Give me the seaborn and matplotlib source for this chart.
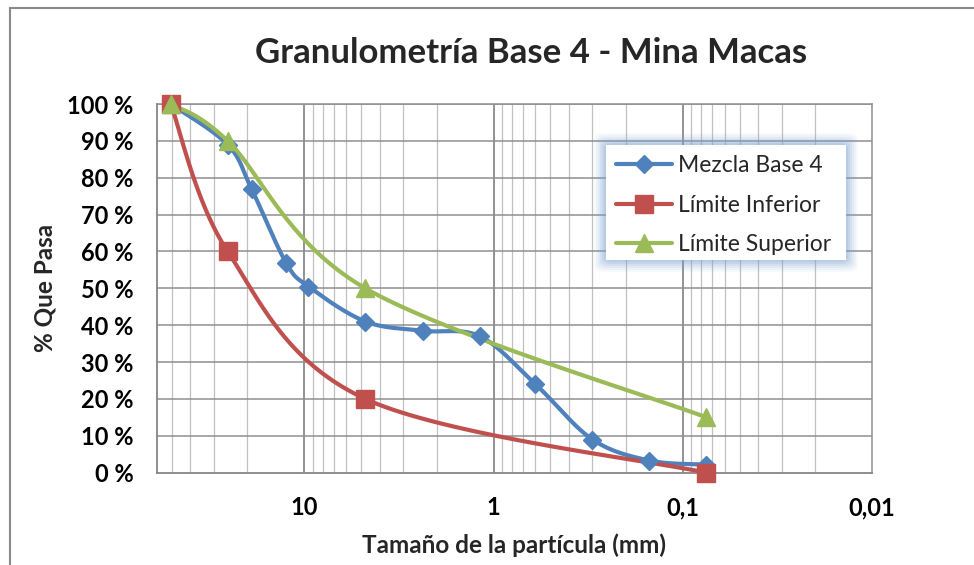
import numpy as np
import matplotlib
matplotlib.use("Agg")
import matplotlib.pyplot as plt
import seaborn as sns
import pandas as pd
from matplotlib.ticker import FixedLocator, NullFormatter
from matplotlib.lines import Line2D
from matplotlib.patches import Rectangle, FancyBboxPatch

# ---------------- data ----------------
sizes_mezcla = [50.8, 25.4, 19.0, 12.5, 9.5, 4.75, 2.36, 1.18, 0.6, 0.3, 0.15, 0.075]
pass_mezcla = [100, 89, 77, 57, 50.5, 41, 38.5, 37, 24, 9, 3.3, 2.2]
sizes_limites = [50.8, 25.4, 4.75, 0.075]
pass_inferior = [100, 60, 20, 0]
pass_superior = [100, 90, 50, 15]
series_names = ["Mezcla Base 4", "Límite Inferior", "Límite Superior"]
x_tick_values = [10, 1, 0.1, 0.01]
x_tick_labels = ["10", "1", "0,1", "0,01"]
y_tick_values = [0, 10, 20, 30, 40, 50, 60, 70, 80, 90, 100]
y_tick_labels = [f"{v} %" for v in y_tick_values]
title = "Granulometría Base 4 - Mina Macas"
x_label = "Tamaño de la partícula (mm)"
y_label = "% Que Pasa"

colors = {"Mezcla Base 4": "#4F81BD", "Límite Inferior": "#C0504D", "Límite Superior": "#9BBB59"}
markers = {"Mezcla Base 4": "D", "Límite Inferior": "s", "Límite Superior": "^"}
msizes = {"Mezcla Base 4": 9.5, "Límite Inferior": 13, "Límite Superior": 12.5}

sns.set_theme(style="white")
plt.rcParams["font.family"] = ["Lato", "DejaVu Sans"]

W, H = 974, 565
fig = plt.figure(figsize=(W / 100, H / 100), dpi=100)
L, R, T, B = 157, 872, 104, 472.7
ax = fig.add_axes([L / W, 1 - B / H, (R - L) / W, (B - T) / H])

XMAX, XMIN = 60.0, 0.01
ax.set_xscale("log")
ax.set_xlim(XMAX, XMIN)
ax.set_ylim(0, 100)

px_per_dec = (R - L) / (np.log10(XMAX) - np.log10(XMIN))
px_per_pct = (B - T) / 100.0


def smooth(xs, ys, n=40, t=1 / 6):
    u = -np.log10(np.asarray(xs, float)) * px_per_dec
    v = np.asarray(ys, float) * px_per_pct
    P = np.column_stack([u, v])
    out = [P[0]]
    s = np.linspace(0, 1, n)[1:, None]
    for i in range(len(P) - 1):
        p0 = P[i - 1] if i > 0 else P[i]
        p1, p2 = P[i], P[i + 1]
        p3 = P[i + 2] if i + 2 < len(P) else P[i + 1]
        c1 = p1 + (p2 - p0) * t
        c2 = p2 - (p3 - p1) * t
        Bz = (1 - s) ** 3 * p1 + 3 * (1 - s) ** 2 * s * c1 + 3 * (1 - s) * s ** 2 * c2 + s ** 3 * p2
        out.extend(Bz)
    out = np.array(out)
    return 10 ** (-out[:, 0] / px_per_dec), out[:, 1] / px_per_pct


series = [
    ("Mezcla Base 4", sizes_mezcla, pass_mezcla),
    ("Límite Inferior", sizes_limites, pass_inferior),
    ("Límite Superior", sizes_limites, pass_superior),
]

# gridlines
minor_vals = []
for dec in [0.01, 0.1, 1, 10]:
    for k in range(2, 10):
        v = k * dec
        if XMIN < v < XMAX:
            minor_vals.append(v)
for v in minor_vals:
    ax.axvline(v, color="#c0c0c0", lw=0.9, zorder=0.5)
for v in [10, 1, 0.1]:
    ax.axvline(v, color="#8a8a8a", lw=1.3, zorder=0.6)
for v in y_tick_values[1:]:
    ax.axhline(v, color="#8f8f8f", lw=1.1, zorder=0.6)

for name, xs, ys in series:
    sx, sy = smooth(xs, ys)
    df_line = pd.DataFrame({"x": sx, "y": sy})
    sns.lineplot(data=df_line, x="x", y="y", sort=False, estimator=None, ax=ax,
                 color=colors[name], lw=3.0, zorder=3)
for name, xs, ys in series:
    df_pts = pd.DataFrame({"x": xs, "y": ys})
    ax.plot(df_pts["x"], df_pts["y"], ls="none", marker=markers[name], ms=msizes[name],
            color=colors[name], mec=colors[name], zorder=4, clip_on=False)

# axes style
for side in ["top", "right"]:
    ax.spines[side].set_color("#8f8f8f")
    ax.spines[side].set_linewidth(1.1)
for side in ["left", "bottom"]:
    ax.spines[side].set_color("#868686")
    ax.spines[side].set_linewidth(1.3)

ax.xaxis.set_major_locator(FixedLocator(x_tick_values))
ax.xaxis.set_minor_locator(FixedLocator([]))
ax.set_xticks(x_tick_values)
ax.set_xticklabels(x_tick_labels)
ax.xaxis.set_minor_formatter(NullFormatter())
ax.set_yticks(y_tick_values)
ax.set_yticklabels(y_tick_labels)
ax.tick_params(axis="both", which="major", direction="out", length=6, width=1.2,
               color="#868686", labelsize=17, labelcolor="black")
ax.tick_params(axis="x", which="major", pad=11)
ax.tick_params(axis="y", which="major", pad=11)
for lab in ax.get_xticklabels() + ax.get_yticklabels():
    lab.set_fontweight("bold")
ax.set_xlabel(x_label, fontsize=17.5, fontweight="bold", labelpad=10)
ax.set_ylabel(y_label, fontsize=17.5, fontweight="bold", labelpad=7.5)

fig.text(531 / W, 1 - 63 / H, title, ha="center", va="baseline", fontsize=25, fontweight="bold")

# outer chart border
fig.patches.append(Rectangle((10 / W, -0.05), 1.2, 1 - 8 / H + 0.05, transform=fig.transFigure,
                             fill=False, edgecolor="#8a8a8a", lw=1.5, zorder=0))

# legend glow + box
lx0, lx1, ly0, ly1 = 606, 846, 145, 260
for i, a in enumerate([0.06, 0.08, 0.10, 0.13, 0.16, 0.2]):
    g = 12 - 2 * i
    fig.patches.append(FancyBboxPatch(((lx0 - g) / W, 1 - (ly1 + g) / H),
                                      (lx1 - lx0 + 2 * g) / W, (ly1 - ly0 + 2 * g) / H,
                                      boxstyle="round,pad=0,rounding_size=0.01",
                                      transform=fig.transFigure, facecolor="#7FA3D3",
                                      edgecolor="none", alpha=a, zorder=5))
fig.patches.append(Rectangle((lx0 / W, 1 - ly1 / H), (lx1 - lx0) / W, (ly1 - ly0) / H,
                             transform=fig.transFigure, facecolor="white", edgecolor="none", zorder=6))

handles = [Line2D([], [], color=colors[n], lw=3.0, marker=markers[n], ms=msizes[n],
                  mec=colors[n]) for n in series_names]
leg = fig.legend(handles, series_names, loc="upper left",
                 bbox_to_anchor=(598 / W, 1 - 137 / H), frameon=False,
                 fontsize=16.5, handlelength=2.45, handletextpad=0.25, labelspacing=0.8,
                 borderpad=0.3)
leg.set_zorder(7)

fig.savefig("out.png", dpi=100, facecolor="white")
